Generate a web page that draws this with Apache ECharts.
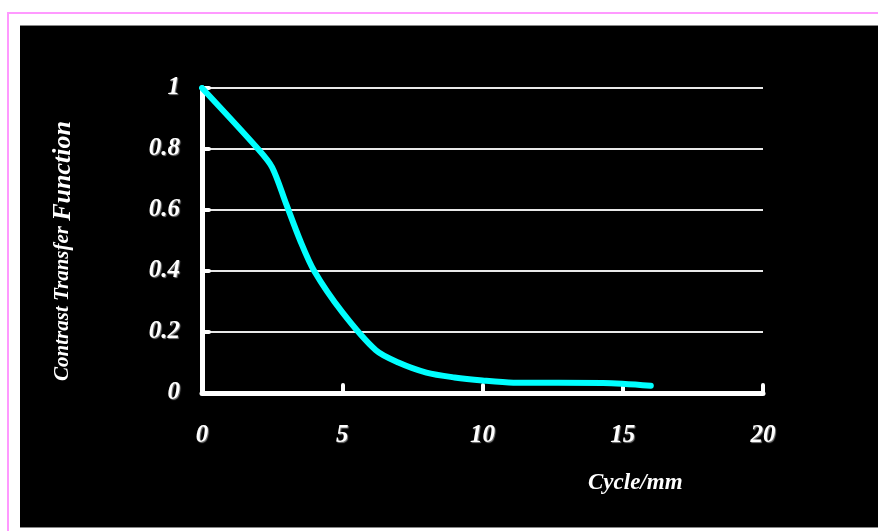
<!DOCTYPE html>
<html>
<head>
<meta charset="utf-8">
<script src="https://cdn.jsdelivr.net/npm/echarts@6/dist/echarts.min.js"></script>
<style>
html,body{margin:0;padding:0;background:#fff;}
#frame{position:absolute;left:7px;top:12px;width:900px;height:560px;border-left:2px solid #ff99ff;border-top:2px solid #ff99ff;}
#black{position:absolute;left:20px;top:25px;width:870px;height:501px;background:#000;border-top:1px solid #888;border-bottom:1px solid #888;}
#chart{position:absolute;left:0;top:0;width:878px;height:531px;}
</style>
</head>
<body>
<div id="frame"></div>
<div id="black"></div>
<div id="chart"></div>
<script>
const cycles = [0, 2, 2.5, 3, 3.5, 4, 5, 6.2, 7, 8, 9, 10, 11.1, 14.3, 16];
const ctf = [1.0, 0.8, 0.74, 0.62, 0.5, 0.40, 0.265, 0.14, 0.10, 0.067, 0.051, 0.041, 0.034, 0.033, 0.024];
const xTicks = [0, 5, 10, 15, 20];
const yTicks = [0, 0.2, 0.4, 0.6, 0.8, 1];
const xTitle = 'Cycle/mm';
const yTitleA = 'Contrast Transfer ';
const yTitleB = 'Function';

const chart = echarts.init(document.getElementById('chart'), null, {renderer: 'canvas'});
const labelFont = {
  color: '#fff', fontFamily: 'Liberation Serif', fontStyle: 'italic', fontWeight: 'bold', fontSize: 25,
  textShadowColor: 'rgba(160,160,160,0.8)', textShadowBlur: 1, textShadowOffsetX: 1, textShadowOffsetY: 1
};
chart.setOption({
  backgroundColor: 'transparent',
  animation: false,
  grid: {left: 202, right: 115, top: 88, bottom: 138},
  xAxis: {
    type: 'value', min: 0, max: 20, interval: 5,
    axisLine: {lineStyle: {color: '#fff', width: 5, cap: 'round'}},
    axisTick: {inside: true, length: 8, lineStyle: {color: '#fff', width: 4, cap: 'round'}},
    axisLabel: Object.assign({margin: 30, formatter: v => xTicks.includes(v) ? String(v) : ''}, labelFont),
    splitLine: {show: false}
  },
  yAxis: {
    type: 'value', min: 0, max: 1, interval: 0.2,
    axisLine: {show: true, lineStyle: {color: '#fff', width: 5, cap: 'round'}},
    axisTick: {show: true, inside: true, length: 7, lineStyle: {color: '#fff', width: 4, cap: 'round'}},
    axisLabel: Object.assign({margin: 22, formatter: v => {
      const t = yTicks.find(y => Math.abs(y - v) < 1e-6);
      return t === undefined ? '' : String(Math.round(t * 10) / 10);
    }}, labelFont),
    splitLine: {show: true, lineStyle: {color: '#e8e8e8', width: 2}}
  },
  graphic: [
    {type: 'text', left: 588, top: 472, style: {
      text: xTitle, fill: '#fff', font: 'italic bold 23px "Liberation Serif"',
      shadowColor: 'rgba(150,150,150,0.9)', shadowBlur: 1, shadowOffsetX: 1, shadowOffsetY: 1
    }},
    {type: 'text', x: 63, y: 251, rotation: Math.PI / 2, style: {
      text: '{a|' + yTitleA + '}{b|' + yTitleB + '}',
      rich: {
        a: {fill: '#fff', fontFamily: 'Liberation Serif', fontStyle: 'italic', fontWeight: 'bold', fontSize: 21},
        b: {fill: '#fff', fontFamily: 'Liberation Serif', fontStyle: 'italic', fontWeight: 'bold', fontSize: 26}
      },
      align: 'center', verticalAlign: 'middle',
      shadowColor: 'rgba(150,150,150,0.9)', shadowBlur: 1
    }}
  ],
  series: [{
    type: 'line',
    data: cycles.map((c, i) => [c, ctf[i]]),
    smooth: 0.3,
    showSymbol: false,
    symbol: 'none',
    lineStyle: {color: '#00ffff', width: 6, cap: 'round', join: 'round'},
    z: 5
  }]
});
</script>
</body>
</html>
